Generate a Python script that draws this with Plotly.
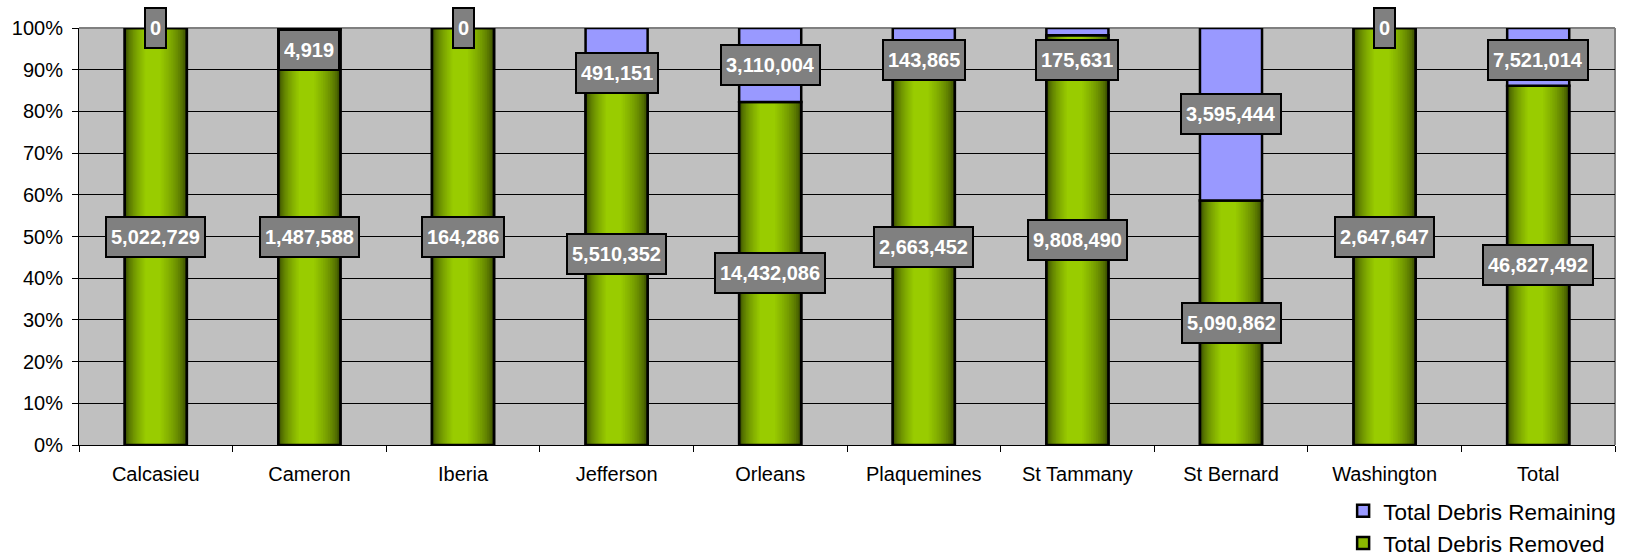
import plotly.graph_objects as go

categories = ["Calcasieu", "Cameron", "Iberia", "Jefferson", "Orleans",
              "Plaquemines", "St Tammany", "St Bernard", "Washington", "Total"]
removed = [5022729, 1487588, 164286, 5510352, 14432086,
           2663452, 9808490, 5090862, 2647647, 46827492]
remaining = [0, 4919, 0, 491151, 3110004,
             143865, 175631, 3595444, 0, 7521014]
y_tick_values = [0, 10, 20, 30, 40, 50, 60, 70, 80, 90, 100]
y_tick_labels = ["0%", "10%", "20%", "30%", "40%", "50%",
                 "60%", "70%", "80%", "90%", "100%"]

FONT = "Arial, Liberation Sans, sans-serif"
totals = [a + b for a, b in zip(removed, remaining)]
removed_pct = [a / t * 100 for a, t in zip(removed, totals)]
remaining_pct = [b / t * 100 for b, t in zip(remaining, totals)]

bar_w = 0.404
half = bar_w / 2

fig = go.Figure()

# base green bar (legend entry)
fig.add_trace(go.Bar(
    x=categories, y=removed_pct, base=[0] * len(categories),
    width=bar_w, offset=-half, name="Total Debris Removed",
    marker=dict(color="#8AB800", line=dict(color="black", width=2.5)),
    legendrank=2, hoverinfo="skip"))

# cylinder-like gradient layers
dark = (48, 64, 0)
bright = (153, 204, 0)
N = 16
for k in range(N):
    t = k / (N - 1)
    left = -half + t * 0.33 * bar_w
    right = half - t * 0.42 * bar_w
    s = t ** 0.55
    col = "rgb(%d,%d,%d)" % tuple(int(d + (b - d) * s) for d, b in zip(dark, bright))
    fig.add_trace(go.Bar(
        x=categories, y=removed_pct, base=[0] * len(categories),
        width=right - left, offset=left,
        marker=dict(color=col, line=dict(width=0)),
        showlegend=False, hoverinfo="skip"))

# outline of green bar
fig.add_trace(go.Bar(
    x=categories, y=removed_pct, base=[0] * len(categories),
    width=bar_w, offset=-half,
    marker=dict(color="rgba(0,0,0,0)", line=dict(color="black", width=2.5)),
    showlegend=False, hoverinfo="skip"))

# remaining
fig.add_trace(go.Bar(
    x=categories, y=remaining_pct, base=removed_pct,
    width=bar_w, offset=-half, name="Total Debris Remaining",
    marker=dict(color="#9999FF", line=dict(color="black", width=2.5)),
    legendrank=1, hoverinfo="skip"))

# data labels
label_cap = 92.4
label_shift_px = {"Cameron": 10, "Jefferson": -13}
annotations = []
box = dict(showarrow=False, xref="x", yref="y", height=30,
           font=dict(family=FONT, size=20, color="white", weight="bold"),
           bgcolor="#808080", bordercolor="black", borderwidth=2, borderpad=4)
for cat, r, rp, m, mp in zip(categories, removed, removed_pct, remaining, remaining_pct):
    annotations.append(dict(box, x=cat, y=rp / 2, text=f"{r:,}"))
    if m == 0:
        ym = 100
    else:
        ym = min(rp + mp / 2, label_cap)
    annotations.append(dict(box, x=cat, y=ym, text=f"{m:,}",
                            yshift=label_shift_px.get(cat, 0)))

fig.update_layout(
    width=1639, height=556,
    margin=dict(l=79, r=24, t=28, b=111, autoexpand=False),
    barmode="overlay",
    plot_bgcolor="#C0C0C0", paper_bgcolor="white",
    font=dict(family=FONT, color="black"),
    annotations=annotations,
    showlegend=True,
    legend=dict(orientation="v", x=0.823, xanchor="left", y=-0.107, yanchor="top",
                font=dict(family=FONT, size=22.5, color="black"),
                bgcolor="rgba(0,0,0,0)", traceorder="normal", tracegroupgap=0),
    shapes=[
        dict(type="line", xref="paper", yref="paper", x0=0, x1=1, y0=1, y1=1,
             line=dict(color="#808080", width=2), layer="below"),
        dict(type="line", xref="paper", yref="paper", x0=1, x1=1, y0=0, y1=1,
             line=dict(color="#808080", width=2), layer="below"),
    ],
)
fig.update_xaxes(type="category", tickson="boundaries", ticks="outside", ticklen=6,
                 tickcolor="black", showline=True, linecolor="black", linewidth=1,
                 showgrid=False, tickfont=dict(family=FONT, size=20, color="black"),
                 ticklabelstandoff=11)
fig.update_yaxes(range=[0, 100], tickvals=y_tick_values, ticktext=y_tick_labels,
                 ticks="outside", ticklen=6, tickcolor="black", showline=True,
                 linecolor="black", linewidth=1, showgrid=True, gridcolor="black",
                 gridwidth=1, zeroline=False,
                 tickfont=dict(family=FONT, size=20, color="black"),
                 ticklabelstandoff=5)

fig.write_html("out.html", config={"displayModeBar": False},
               post_script="document.body.style.margin='0';document.body.style.overflow='hidden';")
